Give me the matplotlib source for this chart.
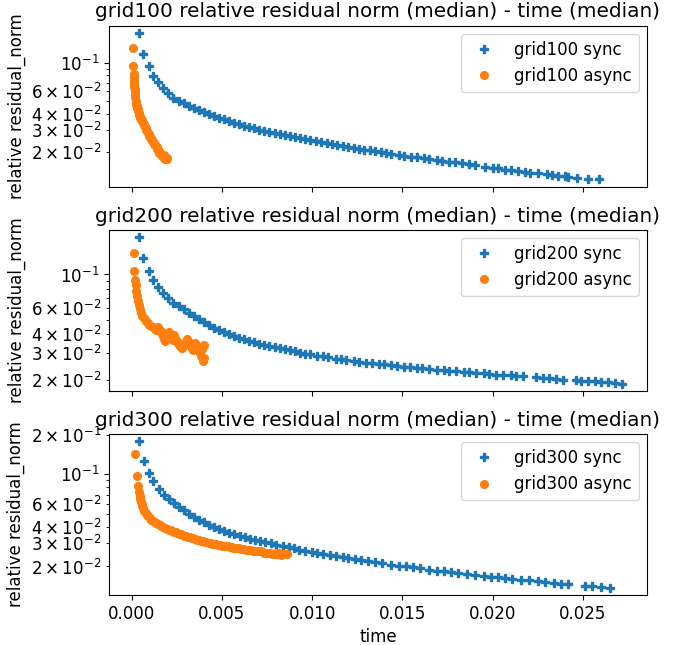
import numpy as np
import matplotlib
matplotlib.use('Agg')
import matplotlib.pyplot as plt
from matplotlib.ticker import LogFormatterSciNotation

# time in ms, residual norm (median)
t100_sync = [0.40, 0.65, 0.94, 1.20, 1.48, 1.76, 2.04, 2.32, 2.60, 2.88, 3.16, 3.44, 3.72, 4.00, 4.28, 4.56,
             4.84, 5.12, 5.40, 5.68, 5.96, 6.24, 6.52, 6.80, 7.08, 7.36, 7.64, 7.92, 8.20, 8.48, 8.76, 9.04,
             9.32, 9.60, 9.90, 10.2, 10.5, 10.8, 11.1, 11.4, 11.7, 12.0, 12.3, 12.6, 12.9, 13.2, 13.5, 13.8,
             14.1, 14.4, 14.8, 15.1, 15.5, 15.8, 16.2, 16.5, 16.9, 17.2, 17.6, 17.9, 18.3, 18.7, 19.0, 19.6,
             20.0, 20.3, 20.7, 21.0, 21.4, 21.8, 22.1, 22.5, 23.0, 23.3, 23.6, 24.0, 24.2, 24.7, 25.3, 25.9]
r100_sync = [0.170, 0.117, 0.0936, 0.0790, 0.0705, 0.0637, 0.0580, 0.0527, 0.0504, 0.0482, 0.0461, 0.0440,
             0.0424, 0.0410, 0.0398, 0.0384, 0.0372, 0.0361, 0.0351, 0.0341, 0.0331, 0.0323, 0.0316, 0.0308,
             0.0301, 0.0295, 0.0290, 0.0284, 0.0279, 0.0274, 0.0268, 0.0263, 0.0258, 0.0253, 0.0248, 0.0244,
             0.0240, 0.0236, 0.0232, 0.0228, 0.0224, 0.0220, 0.0217, 0.0214, 0.0210, 0.0207, 0.0204, 0.0200,
             0.0197, 0.0194, 0.0191, 0.0188, 0.0185, 0.0183, 0.0180, 0.0177, 0.0174, 0.0172, 0.0169, 0.0167,
             0.0164, 0.0161, 0.0159, 0.0154, 0.0152, 0.0150, 0.0147, 0.0145, 0.0142, 0.0140, 0.0138, 0.0137,
             0.0135, 0.0133, 0.0132, 0.0130, 0.0129, 0.0127, 0.0125, 0.0123]

t100_async = [0.10, 0.10, 0.12, 0.13, 0.14, 0.15, 0.16, 0.17, 0.18, 0.20, 0.21, 0.23, 0.24, 0.26, 0.28, 0.30,
              0.33, 0.36, 0.39, 0.42, 0.45, 0.48, 0.52, 0.55, 0.58, 0.62, 0.66, 0.70, 0.74, 0.78, 0.82, 0.86,
              0.90, 0.94, 0.98, 1.02, 1.06, 1.10, 1.14, 1.18, 1.22, 1.26, 1.30, 1.34, 1.38, 1.42, 1.46, 1.50,
              1.54, 1.58, 1.62, 1.66, 1.70, 1.74, 1.78, 1.80, 1.82, 1.86, 1.88, 1.90, 1.93, 1.95, 1.96]
r100_async = [0.131, 0.095, 0.082, 0.0770, 0.0720, 0.0680, 0.0650, 0.0625, 0.0600, 0.0565, 0.0540, 0.0505,
              0.0488, 0.0470, 0.0458, 0.0446, 0.0432, 0.0418, 0.0405, 0.0393, 0.0382, 0.0372, 0.0361, 0.0355,
              0.0349, 0.0341, 0.0333, 0.0325, 0.0317, 0.0309, 0.0300, 0.0292, 0.0284, 0.0276, 0.0268, 0.0263,
              0.0258, 0.0253, 0.0248, 0.0243, 0.0238, 0.0233, 0.0228, 0.0223, 0.0219, 0.0214, 0.0209, 0.0204,
              0.0199, 0.0196, 0.0193, 0.0191, 0.0188, 0.0186, 0.0183, 0.0190, 0.0181, 0.0179, 0.0183, 0.0177,
              0.0176, 0.0182, 0.0178]

t200_sync = [0.40, 0.65, 0.94, 1.20, 1.48, 1.76, 2.04, 2.32, 2.60, 2.88, 3.16, 3.44, 3.72, 4.00, 4.28, 4.56,
             4.84, 5.12, 5.40, 5.68, 5.96, 6.24, 6.52, 6.80, 7.08, 7.36, 7.64, 7.92, 8.20, 8.48, 8.76, 9.04,
             9.32, 9.60, 9.90, 10.3, 10.6, 10.9, 11.3, 11.6, 11.9, 12.3, 12.6, 13.0, 13.3, 13.7, 14.0, 14.4,
             14.7, 15.1, 15.4, 15.8, 16.1, 16.5, 16.9, 17.3, 17.6, 18.0, 18.4, 18.7, 19.1, 19.5, 19.8, 20.2,
             20.6, 21.0, 21.3, 21.7, 22.4, 22.8, 23.1, 23.5, 23.9, 24.6, 24.9, 25.3, 25.7, 26.0, 26.4, 26.8, 27.2]
r200_sync = [0.177, 0.128, 0.106, 0.0917, 0.0820, 0.0750, 0.0701, 0.0651, 0.0619, 0.0588, 0.0557, 0.0526,
             0.0502, 0.0483, 0.0463, 0.0443, 0.0427, 0.0414, 0.0402, 0.0391, 0.0379, 0.0370, 0.0361, 0.0353,
             0.0344, 0.0338, 0.0333, 0.0328, 0.0323, 0.0318, 0.0313, 0.0308, 0.0302, 0.0298, 0.0294, 0.0289,
             0.0285, 0.0281, 0.0276, 0.0272, 0.0268, 0.0265, 0.0262, 0.0259, 0.0257, 0.0254, 0.0252, 0.0249,
             0.0247, 0.0244, 0.0242, 0.0240, 0.0238, 0.0235, 0.0232, 0.0230, 0.0229, 0.0227, 0.0225, 0.0223,
             0.0221, 0.0220, 0.0218, 0.0216, 0.0214, 0.0213, 0.0211, 0.0210, 0.0207, 0.0205, 0.0204, 0.0202,
             0.0200, 0.0198, 0.0197, 0.0196, 0.0195, 0.0194, 0.0192, 0.0190, 0.0188]

t200_async = [0.12, 0.12, 0.19, 0.22, 0.27, 0.31, 0.36, 0.41, 0.46, 0.53, 0.60, 0.68, 0.77, 0.89, 0.99, 1.08,
              1.18, 1.28, 1.37, 1.45, 1.52, 1.62, 1.69, 1.76, 1.81, 1.86, 1.93, 2.00, 2.07, 2.15, 2.22, 2.29,
              2.36, 2.43, 2.51, 2.58, 2.65, 2.72, 2.80, 2.87, 2.94, 3.01, 3.09, 3.16, 3.23, 3.30, 3.38, 3.45,
              3.52, 3.59, 3.66, 3.74, 3.81, 3.86, 3.93, 3.98, 4.03, 3.91, 4.03]
r200_async = [0.139, 0.106, 0.0926, 0.0845, 0.0774, 0.0717, 0.0664, 0.0622, 0.0585, 0.0556, 0.0533, 0.0512,
              0.0491, 0.0477, 0.0464, 0.0453, 0.0444, 0.0435, 0.0426, 0.0448, 0.0430, 0.0419, 0.0403, 0.0389,
              0.0373, 0.0362, 0.0385, 0.0401, 0.0413, 0.0397, 0.0381, 0.0369, 0.0393, 0.0377, 0.0362, 0.0351,
              0.0340, 0.0330, 0.0323, 0.0333, 0.0347, 0.0362, 0.0373, 0.0354, 0.0340, 0.0327, 0.0313, 0.0337,
              0.0351, 0.0340, 0.0327, 0.0313, 0.0301, 0.0286, 0.0274, 0.0266, 0.0277, 0.0320, 0.0340]

t300_sync = [0.40, 0.70, 0.96, 1.20, 1.50, 1.80, 2.06, 2.34, 2.62, 2.90, 3.18, 3.46, 3.74, 4.02, 4.30, 4.58,
             4.86, 5.14, 5.42, 5.70, 5.98, 6.26, 6.54, 6.82, 7.10, 7.40, 7.70, 8.00, 8.40, 8.70, 9.00, 9.30,
             9.60, 10.0, 10.3, 10.6, 11.0, 11.3, 11.7, 12.0, 12.4, 12.7, 13.1, 13.5, 13.9, 14.4, 14.8, 15.2,
             15.6, 16.0, 16.5, 16.9, 17.3, 17.7, 18.1, 18.6, 19.0, 19.5, 19.9, 20.3, 20.7, 21.1, 21.6, 22.0,
             22.5, 22.9, 23.4, 23.8, 24.2, 25.1, 25.5, 26.0, 26.5]
r300_sync = [0.178, 0.126, 0.103, 0.0891, 0.0780, 0.0703, 0.0654, 0.0601, 0.0569, 0.0537, 0.0504, 0.0472,
             0.0451, 0.0434, 0.0416, 0.0399, 0.0385, 0.0373, 0.0362, 0.0350, 0.0339, 0.0332, 0.0324, 0.0317,
             0.0310, 0.0305, 0.0299, 0.0293, 0.0285, 0.0280, 0.0274, 0.0268, 0.0263, 0.0257, 0.0253, 0.0249,
             0.0244, 0.0240, 0.0235, 0.0231, 0.0227, 0.0224, 0.0220, 0.0215, 0.0211, 0.0206, 0.0203, 0.0200,
             0.0197, 0.0193, 0.0189, 0.0186, 0.0184, 0.0181, 0.0178, 0.0175, 0.0172, 0.0169, 0.0167, 0.0165,
             0.0163, 0.0161, 0.0159, 0.0157, 0.0154, 0.0152, 0.0150, 0.0148, 0.0146, 0.0143, 0.0142, 0.0140,
             0.0138]

t300_async = [0.17, 0.29, 0.36, 0.41, 0.45, 0.48, 0.52, 0.55, 0.60, 0.65, 0.70, 0.77, 0.84, 0.91, 1.01, 1.10,
              1.19, 1.28, 1.37, 1.46, 1.55, 1.64, 1.75, 1.86, 1.96, 2.06, 2.16, 2.26, 2.34, 2.44, 2.54, 2.64,
              2.74, 2.82, 2.92, 3.02, 3.12, 3.22, 3.32, 3.42, 3.54, 3.64, 3.74, 3.84, 3.94, 4.04, 4.14, 4.27,
              4.37, 4.47, 4.57, 4.67, 4.77, 4.88, 4.99, 5.10, 5.21, 5.32, 5.43, 5.54, 5.62, 5.71, 5.82, 5.93,
              6.04, 6.14, 6.24, 6.34, 6.44, 6.54, 6.64, 6.74, 6.84, 6.94, 7.04, 7.16, 7.26, 7.36, 7.46, 7.56,
              7.66, 7.78, 7.88, 7.98, 8.08, 8.18, 8.28, 8.40, 8.50, 8.61]
r300_async = [0.143, 0.0966, 0.0812, 0.0736, 0.0680, 0.0645, 0.0615, 0.0594, 0.0572, 0.0551, 0.0530, 0.0505,
              0.0492, 0.0479, 0.0463, 0.0453, 0.0443, 0.0434, 0.0425, 0.0418, 0.0411, 0.0404, 0.0397, 0.0389,
              0.0384, 0.0379, 0.0375, 0.0370, 0.0367, 0.0363, 0.0359, 0.0354, 0.0350, 0.0347, 0.0343, 0.0340,
              0.0336, 0.0333, 0.0329, 0.0326, 0.0322, 0.0319, 0.0316, 0.0313, 0.0311, 0.0307, 0.0304, 0.0300,
              0.0299, 0.0297, 0.0295, 0.0294, 0.0292, 0.0290, 0.0288, 0.0287, 0.0285, 0.0284, 0.0282, 0.0280,
              0.0276, 0.0278, 0.0276, 0.0275, 0.0273, 0.0271, 0.0270, 0.0268, 0.0267, 0.0266, 0.0265, 0.0264,
              0.0263, 0.0262, 0.0261, 0.0260, 0.0257, 0.0255, 0.0254, 0.0252, 0.0251, 0.0248, 0.0249, 0.0253,
              0.0248, 0.0251, 0.0246, 0.0249, 0.0247, 0.0250]

grids = ['grid100', 'grid200', 'grid300']
sync_t = [t100_sync, t200_sync, t300_sync]
sync_r = [r100_sync, r200_sync, r300_sync]
async_t = [t100_async, t200_async, t300_async]
async_r = [r100_async, r200_async, r300_async]

plt.rcParams['font.size'] = 12

fig, axes = plt.subplots(3, 1, sharex=True, figsize=(6.81, 6.45), dpi=100)
fig.subplots_adjust(left=0.160, right=0.950, top=0.960, bottom=0.0775, hspace=0.268)

for i, ax in enumerate(axes):
    g = grids[i]
    ax.plot(np.array(sync_t[i]) / 1000, sync_r[i], 'P', color='C0', markersize=5.5, label=g + ' sync')
    ax.plot(np.array(async_t[i]) / 1000, async_r[i], 'o', color='C1', markersize=5.5, label=g + ' async')
    ax.set_yscale('log')
    # label the 2,3,4,6 minor ticks like older matplotlib did
    ax.yaxis.set_minor_formatter(LogFormatterSciNotation(labelOnlyBase=False, minor_thresholds=(2, 0.4)))
    ax.set_title(g + ' relative residual norm (median) - time (median)', fontsize=14.4)
    ax.set_ylabel('relative residual_norm')
    ax.legend(loc='upper right')

axes[-1].set_xlabel('time')

fig.savefig('out.png', dpi=100)
